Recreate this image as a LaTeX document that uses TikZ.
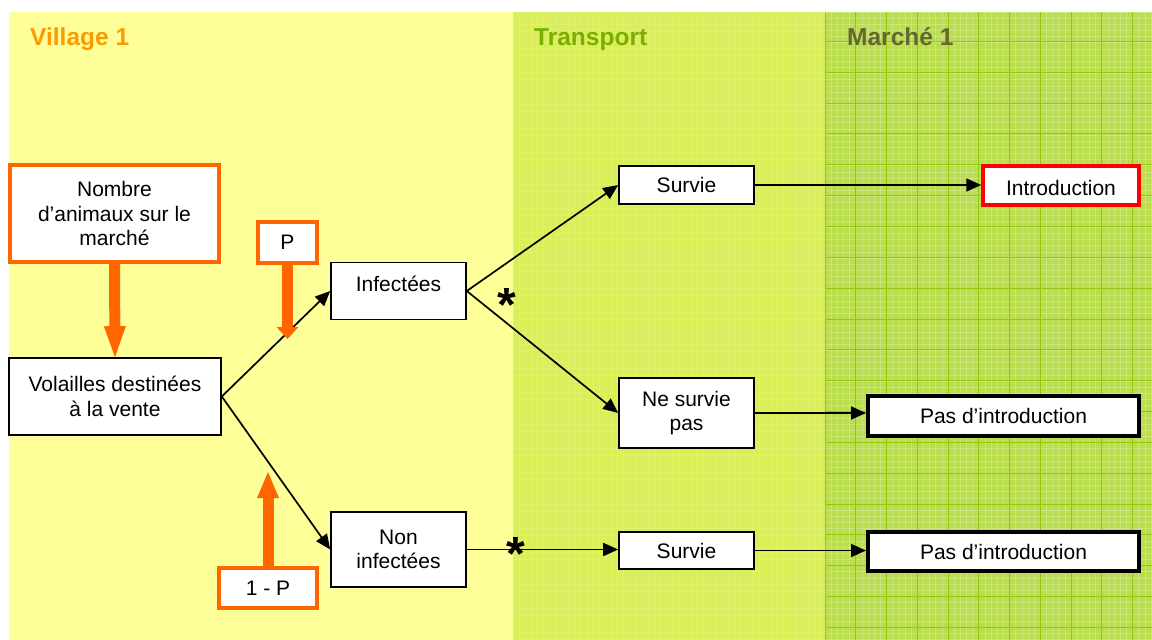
\documentclass[tikz,border=0pt]{standalone}
\usepackage{fontspec}
\setmainfont{Liberation Sans}
\usetikzlibrary{arrows.meta}

\definecolor{villagebg}{RGB}{255,255,153}
\definecolor{transbg}{RGB}{218,238,88}
\definecolor{marchebg}{RGB}{186,222,78}
\definecolor{gridmajor}{RGB}{146,200,16}
\definecolor{boxorange}{RGB}{255,102,0}
\definecolor{titleorange}{RGB}{255,153,0}
\definecolor{titlegreen}{RGB}{122,174,0}
\definecolor{titleolive}{RGB}{102,102,51}

\begin{document}
\begin{tikzpicture}[x=1pt,y=-1pt,
  every node/.style={font=\fontsize{21}{24.5}\selectfont, align=center, inner sep=0pt},
  plainbox/.style={draw=black, fill=white, line width=1.6pt, rectangle},
  orangebox/.style={draw=boxorange, fill=white, line width=3.5pt, rectangle},
  redbox/.style={draw=red, fill=white, line width=3.5pt, rectangle},
  endbox/.style={draw=black, fill=white, line width=4pt, rectangle},
  flow/.style={line width=1.7pt, -{Triangle[length=15pt,width=13pt]}},
  feed/.style={draw=boxorange, line width=11pt, -{Triangle[length=#1,width=22pt,line width=0pt]}},
  zonetitle/.style={font=\fontsize{24.5}{28}\selectfont\bfseries, anchor=base west},
  starmark/.style={font=\fontsize{48}{48}\selectfont\bfseries, anchor=base},
  finegrid/.style={draw=white, opacity=0.22, line width=0.6pt},
  faintgrid/.style={draw=white, opacity=0.12, line width=0.6pt},
  majorgrid/.style={draw=gridmajor, line width=0.9pt}
]
\useasboundingbox (0,0) rectangle (1152,640);
\fill[white] (0,0) rectangle (1152,640);

% three zones
\fill[villagebg] (9,12) rectangle (513,640);
\fill[transbg] (513,12) rectangle (825,640);
\fill[marchebg] (825,12) rectangle (1152,640);

% fine texture of the transport zone
\foreach \i in {0,...,50} { \draw[faintgrid] (513+\i*6.15,12) -- (513+\i*6.15,640); }
\foreach \j in {0,...,102} { \draw[faintgrid] (513,12+\j*6.15) -- (825,12+\j*6.15); }

% graph paper of the market zone
\foreach \i in {0,...,53} { \draw[finegrid] (825+\i*6.15,12) -- (825+\i*6.15,640); }
\foreach \j in {0,...,102} { \draw[finegrid] (825,12+\j*6.15) -- (1152,12+\j*6.15); }
\foreach \i in {0,...,10} { \draw[majorgrid] (825+\i*30.75,12) -- (825+\i*30.75,640); }
\foreach \j in {0,...,19} { \draw[majorgrid] (825,41.3+\j*30.85) -- (1152,41.3+\j*30.85); }

% zone titles
\node[zonetitle, text=titleorange] (tvillage) at (30,45) {Village 1};
\node[zonetitle, text=titlegreen] (ttransport) at (534,45) {Transport};
\node[zonetitle, text=titleolive] (tmarche) at (847,45) {Marché 1};

% boxes
\node[orangebox, minimum width=209pt, minimum height=97pt] (nombre) at (114.5,213.5) {Nombre\\d’animaux sur le\\marché};
\node[orangebox, minimum width=59pt, minimum height=41pt] (pbox) at (287.5,242.5) {P};
\node[plainbox, minimum width=212pt, minimum height=77pt] (vol) at (115,396.5) {Volailles destinées\\à la vente};
\node[plainbox, minimum width=135pt, minimum height=57pt, text depth=14pt] (inf) at (398.5,291) {Infectées};
\node[plainbox, minimum width=135pt, minimum height=75pt] (noninf) at (398.5,549.5) {Non\\infectées};
\node[orangebox, minimum width=98pt, minimum height=40pt] (ompbox) at (268,588) {1 - P};
\node[plainbox, minimum width=135pt, minimum height=38pt] (surv1) at (686.5,185) {Survie};
\node[plainbox, minimum width=135pt, minimum height=70pt] (nesurv) at (686.5,413) {Ne survie\\pas};
\node[plainbox, minimum width=135pt, minimum height=37pt] (surv2) at (686.5,550.5) {Survie};
\node[redbox, minimum width=156pt, minimum height=39pt, text height=20pt] (intro) at (1061,185.5) {Introduction};
\node[endbox, minimum width=271pt, minimum height=40pt] (pas1) at (1003.5,416) {Pas d’introduction};
\node[endbox, minimum width=271pt, minimum height=39pt] (pas2) at (1003.5,551.5) {Pas d’introduction};

% free ends of the probability arrows
\coordinate (ptip) at (287.5,339);
\coordinate (omptip) at (268,472);

% black flow arrows
\draw[flow] (vol.east) -- (inf.west);
\draw[flow] (vol.east) -- (noninf.west);
\draw[flow] (inf.east) -- (surv1.west);
\draw[flow] (inf.east) -- (nesurv.west);
\draw[flow] (noninf.east) -- (noninf.east -| surv2.west);
\draw[flow] (surv1.east) -- (surv1.east -| intro.west);
\draw[flow] (nesurv.east) -- (nesurv.east -| pas1.west);
\draw[flow] (surv2.east) -- (surv2.east -| pas2.west);

% orange input arrows
\draw[feed=31pt] (nombre.south) -- (vol.north);
\draw[feed=12pt] (pbox.south) -- (ptip);
\draw[feed=26pt] (ompbox.north) -- (omptip);

% asterisks
\node[starmark] (star1) at (507,321) {*};
\node[starmark] (star2) at (516,570) {*};
\end{tikzpicture}
\end{document}
